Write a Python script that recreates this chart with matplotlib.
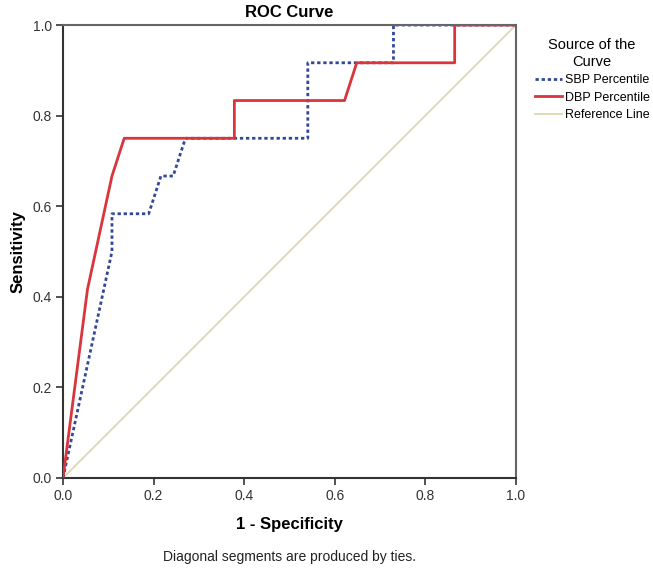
import matplotlib.pyplot as plt

n_neg = 37
n_pos = 12

# ROC points as (false positives count, true positives count)
sbp_fp = [0, 4, 4, 7, 8, 9, 10, 20, 20, 27, 27, 37]
sbp_tp = [0, 6, 7, 7, 8, 8, 9, 9, 11, 11, 12, 12]
dbp_fp = [0, 2, 4, 5, 14, 14, 23, 24, 32, 32, 37]
dbp_tp = [0, 5, 8, 9, 9, 10, 10, 11, 11, 12, 12]

sbp_x = [v / n_neg for v in sbp_fp]
sbp_y = [v / n_pos for v in sbp_tp]
dbp_x = [v / n_neg for v in dbp_fp]
dbp_y = [v / n_pos for v in dbp_tp]

ticks = [0.0, 0.2, 0.4, 0.6, 0.8, 1.0]

plt.rcParams['font.family'] = ['Liberation Sans', 'DejaVu Sans']

fig = plt.figure(figsize=(6.53, 5.77), dpi=100)
ax = fig.add_axes([0.0965, 0.1716, 0.6935, 0.785])

ax.plot([0, 1], [0, 1], color='#ddd8b4', lw=1.3, label='Reference Line', zorder=1)
ax.plot(dbp_x, dbp_y, color='#d9353c', lw=2.0, label='DBP Percentile', zorder=3)
ax.plot(sbp_x, sbp_y, color='#34479a', lw=2.0, ls=(0, (1.2, 1.0)), label='SBP Percentile', zorder=2)

ax.set_xlim(0, 1)
ax.set_ylim(0, 1)
ax.set_xticks(ticks)
ax.set_yticks(ticks)
ax.set_xticklabels([f'{t:.1f}' for t in ticks])
ax.set_yticklabels([f'{t:.1f}' for t in ticks])
ax.tick_params(direction='out', length=5, width=1.2, labelsize=10, colors='#333333', pad=3)

for s in ['left', 'bottom']:
    ax.spines[s].set_linewidth(1.5)
    ax.spines[s].set_color('#333333')
for s in ['top', 'right']:
    ax.spines[s].set_linewidth(1.5)
    ax.spines[s].set_color('#666666')

ax.set_xlabel('1 - Specificity', fontsize=12, fontweight='bold', labelpad=10)
ax.set_ylabel('Sensitivity', fontsize=12, fontweight='bold', labelpad=5)
ax.set_title('ROC Curve', fontsize=12, fontweight='bold', pad=6)

handles, labels = ax.get_legend_handles_labels()
order = [2, 1, 0]
leg = ax.legend([handles[i] for i in order], [labels[i] for i in order],
                title='Source of the\nCurve', loc='upper left', bbox_to_anchor=(1.022, 0.99),
                frameon=False, fontsize=9, title_fontsize=10.5, handlelength=2.2,
                handletextpad=0.2, labelspacing=0.45, borderpad=0.2)
leg.get_title().set_multialignment('center')

fig.text(0.443, 0.035, 'Diagonal segments are produced by ties.', ha='center', va='center',
         fontsize=10, color='#222222')

plt.savefig('out.png', dpi=100)
